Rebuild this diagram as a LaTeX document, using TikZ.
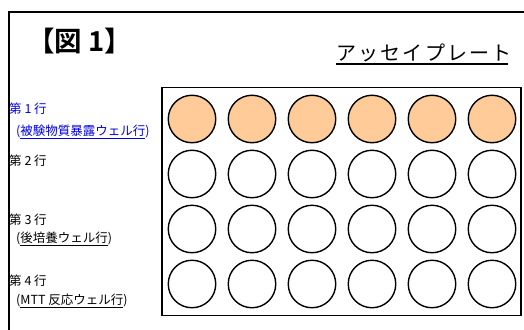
\documentclass[tikz,border=0pt]{standalone}
\usepackage{fontspec}
\setmainfont{Noto Sans CJK JP}
\newfontfamily\jpbold{Noto Sans CJK JP Bold}
\definecolor{wellorange}{HTML}{FFCC99}
\definecolor{labelblue}{HTML}{0000EE}
\tikzset{
  lbl/.style={anchor=west, inner sep=0pt, font=\fontsize{12.5}{14}\selectfont},
  well/.style={circle, draw=black, line width=1.4pt, minimum size=47.5pt, inner sep=0pt},
  exposed/.style={well, fill=wellorange},
  plainwell/.style={well, fill=white},
}
\begin{document}
\begin{tikzpicture}[x=1pt,y=-1pt]
\useasboundingbox (0,0) rectangle (524,329);
\clip (0,0) rectangle (524,329);
\fill[white] (0,0) rectangle (524,329);
% outer frame
\draw[line width=1.4pt] (9,12) rectangle (540,345);
% title
\node[anchor=west, inner sep=0pt, font=\jpbold\fontsize{27.5}{30}\selectfont] (title) at (27,41) {【図 1】};
% plate label
\node[inner sep=0pt, font=\addfontfeature{LetterSpace=11}\fontsize{20}{22}\selectfont] (plate) at (424,53) {アッセイプレート};
\coordinate (ul1) at (336,64);
\coordinate (ul2) at (508,64);
\draw[line width=1.5pt] (ul1) -- (ul2);
% plate
\draw[line width=1.8pt] (162,87.5) rectangle (521,315.5) node[coordinate] (platebox) {};
% wells
\foreach \c [count=\i] in {192,252,312,372,432,492} {
  \node[exposed] (w1\i) at (\c,119) {};
  \node[plainwell] (w2\i) at (\c,174) {};
  \node[plainwell] (w3\i) at (\c,229) {};
  \node[plainwell] (w4\i) at (\c,284) {};
}
% labels
\node[lbl, text=labelblue] (r1) at (9,109) {第 1 行};
\node[lbl, text=labelblue] (r1d) at (16,132) {(\underline{被験物質暴露ウェル行})};
\node[lbl] (r2) at (9,161) {第 2 行};
\node[lbl] (r3) at (9,220) {第 3 行};
\node[lbl] (r3d) at (16,239) {(\underline{後培養ウェル行})};
\node[lbl] (r4) at (9,280.5) {第 4 行};
\node[lbl] (r4d) at (16,301) {(\underline{MTT 反応ウェル行})};
\end{tikzpicture}
\end{document}
